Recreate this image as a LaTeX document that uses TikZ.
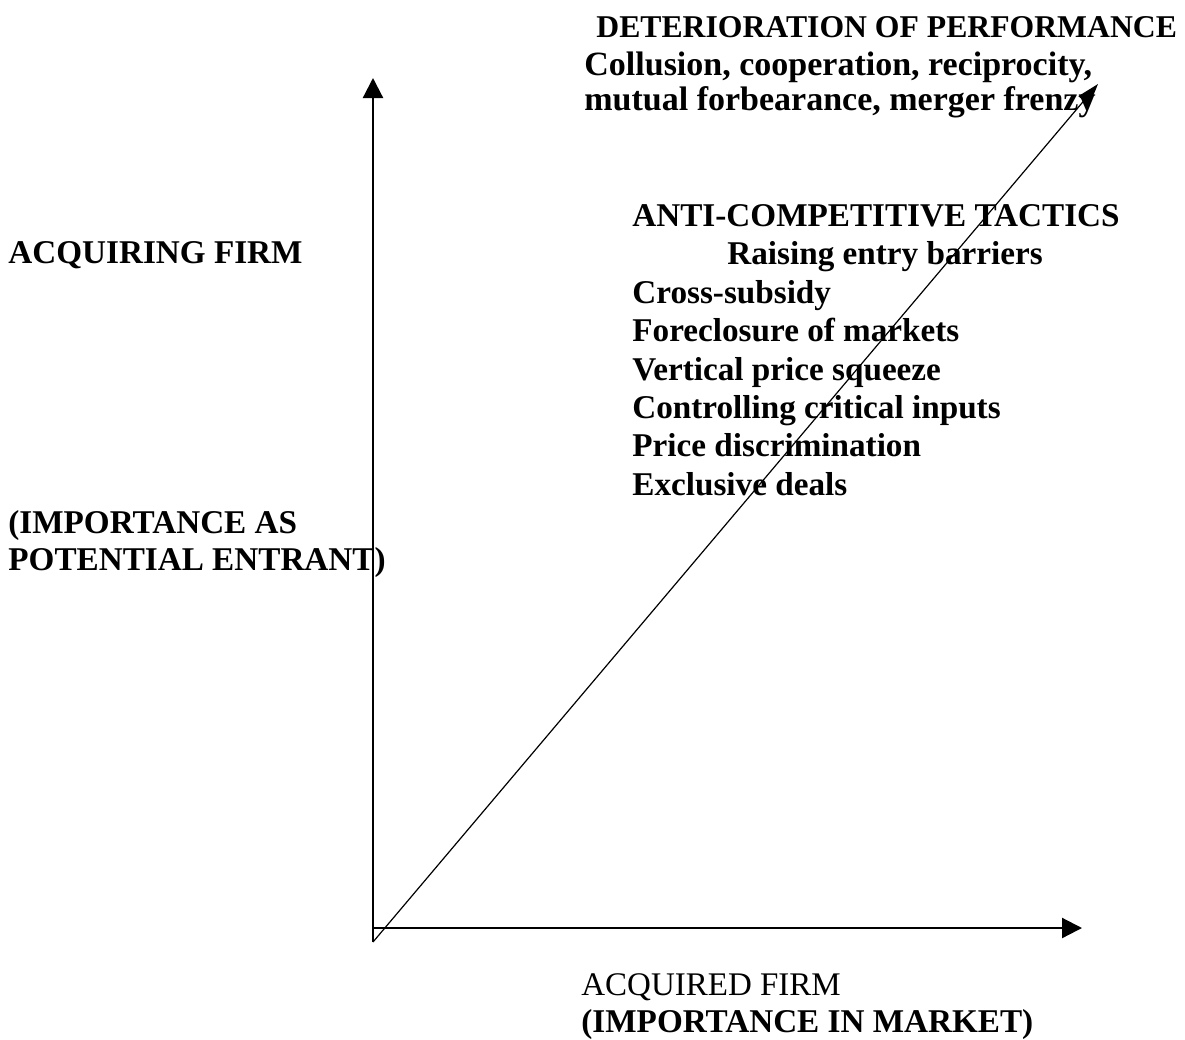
\documentclass[tikz,border=0pt]{standalone}
\usepackage{fontspec}
\setmainfont{Liberation Serif}
\usetikzlibrary{arrows.meta}

\tikzset{
  label/.style={anchor=base west,inner sep=0pt,font=\fontsize{16.6}{19}\selectfont\bfseries},
  plainlabel/.style={anchor=base west,inner sep=0pt,font=\fontsize{16.5}{19}\selectfont},
  axis/.style={line width=1.1pt,-{Triangle[width=10pt,length=10pt]}},
  trend/.style={line width=0.6pt,-{Triangle[width=7pt,length=11pt]}}
}

\begin{document}
\begin{tikzpicture}[x=0.5pt,y=-0.5pt]
  \useasboundingbox (0,0) rectangle (1185,1040);

  %% axes and trend line
  \coordinate (yfoot) at (373,942);
  \coordinate (ytip) at (373,78);
  \coordinate (xfoot) at (373,928);
  \coordinate (xtip) at (1082,928);
  \coordinate (dtip) at (1098,84);
  \draw[axis] (yfoot) -- (ytip);
  \draw[axis] (xfoot) -- (xtip);
  \draw[trend] (yfoot) -- (dtip);

  %% vertical axis labels
  \node[label] (acquiring) at (8,263) {ACQUIRING FIRM};
  \node[label] (entrant1) at (8,533) {(IMPORTANCE AS};
  \node[label] (entrant2) at (8,570) {POTENTIAL ENTRANT)};

  %% horizontal axis labels
  \node[plainlabel] (acquired) at (581,995) {ACQUIRED FIRM};
  \node[label] (market) at (581,1032) {(IMPORTANCE IN MARKET)};

  %% end of the trend line
  \node[label,font=\fontsize{15.85}{19}\selectfont\bfseries] (deter) at (596,37)
       {DETERIORATION OF PERFORMANCE};
  \node[label,font=\fontsize{17}{19}\selectfont\bfseries] (collusion1) at (584,75)
       {Collusion, cooperation, reciprocity,};
  \node[label,font=\fontsize{17}{19}\selectfont\bfseries] (collusion2) at (584,110)
       {mutual forbearance, merger frenzy};

  %% tactics list
  \node[label] (tactics) at (632,226) {ANTI-COMPETITIVE TACTICS};
  \node[label] (barriers) at (727,264) {Raising entry barriers};
  \node[label] (subsidy) at (632,303) {Cross-subsidy};
  \node[label] (foreclosure) at (632,341) {Foreclosure of markets};
  \node[label] (squeeze) at (632,380) {Vertical price squeeze};
  \node[label] (inputs) at (632,418) {Controlling critical inputs};
  \node[label] (discrim) at (632,456) {Price discrimination};
  \node[label] (exclusive) at (632,495) {Exclusive deals};
\end{tikzpicture}
\end{document}
